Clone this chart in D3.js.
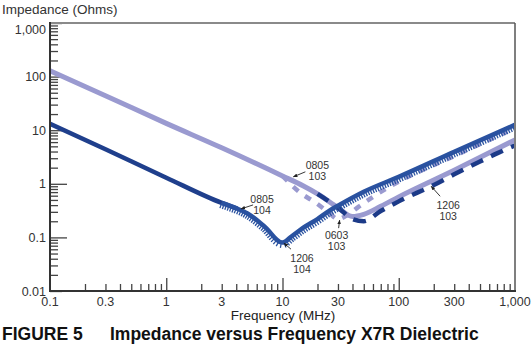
<!DOCTYPE html>
<html><head><meta charset="utf-8">
<script src="https://cdn.jsdelivr.net/npm/d3@7"></script>
<style>html,body{margin:0;padding:0;background:#fff;} svg{display:block;font-family:"Liberation Sans",Arial,Helvetica,sans-serif;}</style>
</head><body><svg id="c" width="532" height="347"></svg>
<script>
// ---- data (frequency in MHz, impedance in Ohms) ----
const xTickValues = [0.1, 0.3, 1, 3, 10, 30, 100, 300, 1000];
const xTickLabels = ["0.1", "0.3", "1", "3", "10", "30", "100", "300", "1,000"];
const yTickValues = [0.01, 0.1, 1, 10, 100, 1000];
const yTickLabels = ["0.01", "0.1", "1", "10", "100", "1,000"];

const freq0805_103 = [0.1, 0.3, 1, 3, 10, 15, 20, 30, 40, 50, 70, 100, 300, 1000];
const z0805_103    = [128, 44, 13.4, 4.7, 1.4, 0.92, 0.65, 0.36, 0.245, 0.27, 0.38, 0.57, 1.79, 6.6];

const freq0603_103 = [10, 14, 20, 25, 30, 35, 45, 60, 100, 300, 1000];
const z0603_103    = [1.4, 0.7, 0.42, 0.29, 0.22, 0.25, 0.37, 0.57, 1.1, 3.3, 11];

const freq1206_103 = [20, 30, 40, 50, 70, 100, 200, 300, 500, 700, 1000];
const z1206_103    = [0.65, 0.36, 0.22, 0.2, 0.31, 0.47, 0.95, 1.5, 2.6, 3.7, 5.2];

const freq0805_104 = [0.1, 0.3, 1, 3, 4];
const z0805_104    = [13.2, 4.4, 1.3, 0.44, 0.35];

const freq1206_104 = [3, 4, 5, 7, 10, 12, 15, 20, 25, 30, 50, 100, 300, 1000];
const z1206_104    = [0.44, 0.35, 0.28, 0.16, 0.08, 0.105, 0.15, 0.22, 0.31, 0.39, 0.71, 1.35, 3.95, 12.6];

const annLabels = [["0805", "103"], ["0805", "104"], ["1206", "104"], ["0603", "103"], ["1206", "103"]];
const annFreq   = [12.4, 4.4, 10.3, 31, 190];
const annZ      = [1.35, 0.34, 0.078, 0.21, 0.9];

// ---- layout ----
const svg = d3.select("#c");
const x = d3.scaleLog().domain([0.1, 1000]).range([50, 515]);
const y = d3.scaleLog().domain([0.01, 1000]).range([291, 23]);

const C_LIGHT = "#9a9ad0", C_DARK = "#1f3f8c", C_TOOTH = "#2a52a0", C_DASH = "#1c3a88";

// minor tick values from scale
function minors(domain) {
  const out = [];
  for (let d = domain[0]; d < domain[1] * 0.999; d *= 10)
    for (let k = 2; k <= 9; k++) out.push(d * k);
  return out;
}

// Y ticks (inside, to the right)
const gy = svg.append("g").attr("transform", "translate(50,0)").attr("color", "#444");
gy.append("g").call(d3.axisRight(y).tickValues(minors([0.01, 1000])).tickSize(8).tickFormat(""));
gy.append("g").call(d3.axisRight(y).tickValues([0.01, 10, 100, 1000]).tickSize(12).tickFormat(""));
gy.append("g").call(d3.axisRight(y).tickValues([0.1, 1]).tickSize(17).tickFormat(""));
gy.selectAll(".domain").remove();
gy.selectAll("line").attr("stroke-width", 1.3);

// X ticks (inside, upward)
const gx = svg.append("g").attr("transform", "translate(0,291)").attr("color", "#444");
gx.append("g").call(d3.axisTop(x).tickValues(minors([0.1, 1000])).tickSize(7).tickFormat(""));
gx.append("g").call(d3.axisTop(x).tickValues([1, 10, 100]).tickSize(13).tickFormat(""));
gx.selectAll(".domain").remove();
gx.selectAll("line").attr("stroke-width", 1.3);

// frame
svg.append("line").attr("x1", 50).attr("x2", 515).attr("y1", 23).attr("y2", 23)
  .attr("stroke", "#8a8a8a").attr("stroke-width", 2);
svg.append("line").attr("x1", 515).attr("x2", 515).attr("y1", 23).attr("y2", 291)
  .attr("stroke", "#555").attr("stroke-width", 1.5);
svg.append("line").attr("x1", 50).attr("x2", 50).attr("y1", 22).attr("y2", 292)
  .attr("stroke", "#333").attr("stroke-width", 2);
svg.append("line").attr("x1", 49).attr("x2", 516).attr("y1", 291).attr("y2", 291)
  .attr("stroke", "#333").attr("stroke-width", 2);

// tick labels
svg.append("g").selectAll("text").data(yTickValues).join("text")
  .attr("x", 46).attr("y", d => Math.max(y(d), 29)).attr("dy", "0.36em")
  .attr("text-anchor", "end").attr("font-size", 12.5).attr("fill", "#333")
  .text((d, i) => yTickLabels[i]);
svg.append("g").selectAll("text").data(xTickValues).join("text")
  .attr("x", d => x(d)).attr("y", 306)
  .attr("text-anchor", "middle").attr("font-size", 12.5).attr("fill", "#333")
  .text((d, i) => xTickLabels[i]);

// titles
svg.append("text").attr("x", 2).attr("y", 14).attr("font-size", 13.5).attr("fill", "#333")
  .text("Impedance (Ohms)");
svg.append("text").attr("x", 283).attr("y", 320).attr("text-anchor", "middle")
  .attr("font-size", 13.5).attr("fill", "#222").text("Frequency (MHz)");
svg.append("text").attr("x", 2).attr("y", 340).attr("font-size", 17.5).attr("font-weight", "bold")
  .attr("fill", "#111").text("FIGURE 5");
svg.append("text").attr("x", 110).attr("y", 340).attr("font-size", 17.5).attr("font-weight", "bold")
  .attr("fill", "#111").text("Impedance versus Frequency X7R Dielectric");

// curves
svg.append("clipPath").attr("id", "clip").append("rect")
  .attr("x", 51).attr("y", 24).attr("width", 463).attr("height", 266);
const plot = svg.append("g").attr("clip-path", "url(#clip)");
const line = d3.line().x(d => x(d[0])).y(d => y(d[1])).curve(d3.curveMonotoneX);
const zip = (f, z) => f.map((v, i) => [v, z[i]]);

plot.append("path").attr("d", line(zip(freq0805_103, z0805_103)))
  .attr("fill", "none").attr("stroke", C_LIGHT).attr("stroke-width", 5).attr("stroke-linejoin", "round");
plot.append("path").attr("d", line(zip(freq0603_103, z0603_103)))
  .attr("fill", "none").attr("stroke", C_LIGHT).attr("stroke-width", 4.5).attr("stroke-dasharray", "7 8");
plot.append("path").attr("d", line(zip(freq1206_103, z1206_103)))
  .attr("fill", "none").attr("stroke", C_DASH).attr("stroke-width", 4.5).attr("stroke-dasharray", "13 9");
plot.append("path").attr("d", line(zip(freq0805_104, z0805_104)))
  .attr("fill", "none").attr("stroke", C_DARK).attr("stroke-width", 4.5).attr("stroke-linecap", "round");

const tooth = plot.append("path").attr("d", line(zip(freq1206_104, z1206_104)))
  .attr("fill", "none").attr("stroke", C_TOOTH).attr("stroke-width", 4.5).attr("stroke-linejoin", "round");
const tnode = tooth.node(), TL = tnode.getTotalLength();
const tg = plot.append("g");
for (let s = 0; s < TL; s += 2.6) {
  const a = tnode.getPointAtLength(s), b = tnode.getPointAtLength(Math.min(TL, s + 0.6));
  let dx = b.x - a.x, dy = b.y - a.y; const n = Math.hypot(dx, dy) || 1; dx /= n; dy /= n;
  tg.append("line").attr("x1", a.x).attr("y1", a.y).attr("x2", a.x - dy * 5.5).attr("y2", a.y + dx * 5.5)
    .attr("stroke", C_TOOTH).attr("stroke-width", 1.3);
}

// annotations
const defs = svg.append("defs");
defs.append("marker").attr("id", "ah").attr("viewBox", "0 0 10 10").attr("refX", 9).attr("refY", 5)
  .attr("markerWidth", 5).attr("markerHeight", 5).attr("orient", "auto")
  .append("path").attr("d", "M0,1 L10,5 L0,9 Z").attr("fill", "#222");
// pixel offsets of arrow start and label centre relative to the arrow tip
const annLayout = [
  {ax: 12, ay: -5, tx: 24, ty: -8},
  {ax: 12, ay: -4, tx: 21, ty: -6},
  {ax: 7, ay: 6, tx: 18, ty: 19},
  {ax: -1, ay: 8, tx: -3, ty: 19},
  {ax: 9, ay: 10, tx: 17, ty: 23}
];
annLabels.forEach((lab, i) => {
  const px = x(annFreq[i]), py = y(annZ[i]), L = annLayout[i];
  svg.append("line").attr("x1", px + L.ax).attr("y1", py + L.ay).attr("x2", px).attr("y2", py)
    .attr("stroke", "#222").attr("stroke-width", 0.9).attr("marker-end", "url(#ah)");
  const t = svg.append("text").attr("text-anchor", "middle").attr("font-size", 10.5).attr("fill", "#333");
  lab.forEach((s, k) => t.append("tspan").attr("x", px + L.tx).attr("y", py + L.ty + k * 11).text(s));
});
</script></body></html>
